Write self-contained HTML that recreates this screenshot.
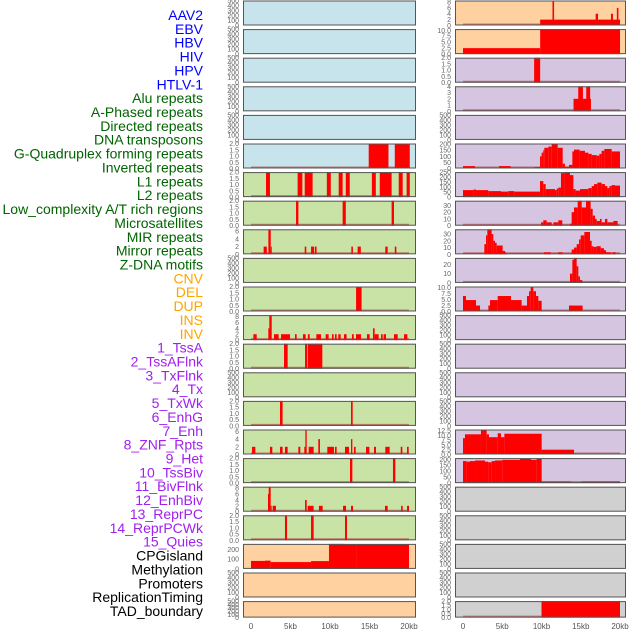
<!DOCTYPE html>
<html><head><meta charset="utf-8"><style>
body{margin:0;background:#fff;width:630px;height:630px;overflow:hidden}
svg{display:block}
</style></head><body>
<svg id="chart" width="630" height="630" viewBox="0 0 630 630"></svg>
<script>
const trackLabels=["AAV2","EBV","HBV","HIV","HPV","HTLV-1","Alu repeats","A-Phased repeats","Directed repeats","DNA transposons","G-Quadruplex forming repeats","Inverted repeats","L1 repeats","L2 repeats","Low_complexity A/T rich regions","Microsatellites","MIR repeats","Mirror repeats","Z-DNA motifs","CNV","DEL","DUP","INS","INV","1_TssA","2_TssAFlnk","3_TxFlnk","4_Tx","5_TxWk","6_EnhG","7_Enh","8_ZNF_Rpts","9_Het","10_TssBiv","11_BivFlnk","12_EnhBiv","13_ReprPC","14_ReprPCWk","15_Quies","CPGisland","Methylation","Promoters","ReplicationTiming","TAD_boundary"];
const labelColors=["#0000ff",6,"#006400",13,"#ffa500",5,"#a020f0",15,"#000000",5];
const xTicks=[0,5,10,15,20];
const xTickLabels=["0","5kb","10kb","15kb","20kb"];
const leftBg=["blue","blue","blue","blue","blue","blue","green","green","green","green","green","green","green","green","green","green","green","green","green","orange","orange","orange"];
const rightBg=["orange","orange","lav","lav","lav","lav","lav","lav","lav","lav","lav","lav","lav","lav","lav","lav","lav","gray","gray","gray","gray","gray"];
const leftMax=[500,500,500,500,500,2,2,2,6.5,500,2,8.5,2,500,2,6.5,2,8.5,2,257,500,500];
const rightMax=[8.5,10.5,2,4,500,205,250,37,37,27,10.5,500,500,500,500,13,210,500,500,500,500,2];
const leftSegs=[[],[],[],[],[],
[[14.9,17.4,2],[18.2,20.1,2]],
[[1.9,2.4,2],[5.9,6.5,2],[6.8,7.8,2],[9.6,10.1,2],[11.1,11.6,2],[12.0,12.5,2],[15.3,15.8,2],[16.3,17.8,2],[18.7,19.2,2],[19.7,20.1,2]],
[[5.7,6.0,2],[11.6,12.0,2],[17.8,18.1,2]],
[[1.6,2.0,2],[2.2,2.5,6.5],[2.5,2.6,2],[6.8,7.0,2],[7.6,8.0,2],[8.1,8.3,2],[12.7,12.9,2],[13.5,13.9,2],[17.0,17.3,2],[18.2,18.4,2]],
[],
[[13.3,14.0,2]],
[[0.3,0.72,2],[2.19,2.4,4],[2.32,2.62,8.5],[2.91,3.5,2],[3.8,4.94,2],[5.57,5.78,2],[6.58,6.92,2],[7.2,7.43,2],[8.27,8.86,2],[9.45,9.83,2],[10.25,10.46,2],[10.63,10.84,2],[11.05,11.35,2],[11.77,12.1,2],[12.78,13.0,2],[13.29,13.92,2],[14.68,15.02,2],[15.44,15.65,4],[15.65,16.16,2],[16.46,16.67,2],[16.79,17.09,2],[18.1,18.57,2],[19.37,19.79,2]],
[[4.18,4.64,2],[6.84,7.09,2],[7.17,9.03,2]],
[],
[[3.67,4.0,2],[12.66,12.87,2]],
[[0.13,0.55,2],[2.4,2.7,2],[3.67,4.0,2],[4.3,4.64,2],[5.99,6.24,2],[6.75,6.96,2],[6.88,7.05,6.5],[7.3,7.93,2],[8.52,8.73,4],[9.66,10.5,2],[10.63,10.84,2],[11.9,12.4,2],[12.66,12.83,4],[13.04,13.25,2],[14.56,14.98,2],[15.57,15.82,2],[17.0,17.55,2],[18.95,19.16,2],[19.75,19.96,2]],
[[12.53,12.83,2],[17.97,18.27,2]],
[[2.15,2.24,6],[2.24,2.49,8.5],[2.49,2.6,2],[2.74,3.16,2],[6.84,7.05,4],[7.17,7.93,2],[8.6,9.07,2],[11.65,12.03,2],[12.66,12.91,2],[16.96,17.3,2],[19.0,19.2,2],[19.75,20.0,2]],
[[4.3,4.56,2],[7.6,7.93,2],[11.9,12.15,2]],
[[0,1.77,82],[1.77,2.49,85],[2.49,7.6,70],[7.6,9.87,80],[9.87,11.9,257],[11.9,13.3,250],[13.3,20.0,255]],
[],[]];
const rightSegs=[
[[9.83,20.0,2],[11.4,11.6,8.5],[16.9,17.2,4],[18.85,19.1,4],[19.6,19.8,6]],
[[0,9.83,2.5],[9.83,20.0,10.5]],
[[9.06,9.83,2]],
[[14.08,16.3,2],[14.68,15.28,4],[15.7,16.2,4]],
[],
[[0,1.53,20],[4.59,6.07,20],[9.09,9.81,12],[9.81,10.02,100],[10.02,10.23,130],[10.23,10.36,150],[10.36,10.87,170],[10.87,11.3,180],[11.3,12.06,200],[12.06,12.7,170],[12.7,12.99,40],[12.99,13.5,15],[13.5,13.93,30],[13.93,14.14,140],[14.14,14.86,155],[14.86,15.54,145],[15.54,15.97,130],[15.97,16.39,120],[16.39,17.03,110],[17.03,17.37,105],[17.37,17.66,120],[17.66,18.0,145],[18.0,18.94,160],[18.94,20.0,140]],
[[0,1.32,70],[1.32,1.66,75],[1.66,3.23,70],[3.23,4.84,60],[4.84,5.77,55],[5.77,6.54,60],[6.54,9.81,55],[9.81,10.23,160],[10.23,10.53,130],[10.53,11.72,80],[11.72,11.93,70],[11.93,12.14,85],[12.14,12.48,95],[12.48,12.91,240],[12.91,13.63,250],[13.63,14.06,220],[14.06,14.35,80],[14.35,14.9,65],[14.9,15.97,80],[15.97,16.39,90],[16.39,16.69,110],[16.69,17.11,130],[17.11,17.66,145],[17.66,18.09,130],[18.09,18.39,110],[18.39,18.64,90],[18.64,18.94,110],[18.94,19.36,120],[19.36,20.0,115]],
[[9.94,10.23,5],[10.23,10.66,8],[10.66,11.3,5],[11.51,12.14,5],[12.14,12.65,8],[13.63,13.84,3],[13.84,14.14,20],[14.14,14.61,27],[14.61,15.12,37],[15.12,15.67,27],[15.67,16.26,37],[16.26,16.52,25],[16.52,16.82,15],[16.82,17.03,10],[17.03,17.45,7],[17.45,17.66,10],[17.66,18.09,5],[18.09,18.39,10],[18.39,19.15,5],[19.15,19.7,7]],
[[2.72,2.93,15],[2.93,3.1,28],[3.1,3.65,37],[3.65,3.86,30],[3.86,4.08,20],[4.08,4.29,17],[4.29,5.05,13],[5.05,5.35,5],[5.35,5.48,3],[10.32,11.17,3],[12.14,12.7,3],[13.84,14.14,7],[14.14,14.48,10],[14.48,14.78,15],[14.78,14.99,22],[14.99,15.46,28],[15.46,16.18,33],[16.18,16.39,20],[16.39,16.6,12],[16.6,17.03,11],[17.03,17.54,12],[17.54,17.96,9],[17.96,18.22,6],[18.22,18.85,3],[19.02,19.45,3]],
[[13.63,13.93,10],[13.93,14.14,25],[14.14,14.48,27],[14.48,14.69,18],[14.69,14.9,7],[14.9,15.2,3]],
[[0,0.38,6.5],[0.38,1.66,4.8],[1.66,2.17,2.5],[3.23,3.44,2.5],[3.44,4.42,4.8],[4.42,6.11,6.5],[6.11,7.47,4.8],[7.47,8.15,2.5],[8.15,8.41,6.5],[8.41,8.62,8.5],[8.62,8.96,10.3],[8.96,9.3,8.5],[9.3,9.6,6.5],[9.6,10.02,4.5],[13.5,15.24,2.5]],
[],[],[],[],
[[0,0.25,8.5],[0.25,2.29,10.5],[2.29,3.01,12.5],[3.01,3.31,10.5],[3.31,4.42,9],[4.42,4.84,11],[4.84,5.27,9],[5.27,10.02,10.8],[10.02,14.14,2.5]],
[[0,0.47,185],[0.47,0.89,180],[0.89,1.53,185],[1.53,2.8,190],[2.8,3.23,180],[3.23,3.65,175],[3.65,4.08,185],[4.08,5.01,190],[5.01,7.26,195],[7.26,8.66,205],[8.66,9.38,195],[9.38,10.02,205],[10.02,13.76,13],[13.76,15.12,5],[15.12,20.0,13]],
[],[],[],[],
[[10.0,20.0,2]]];

const NS="http://www.w3.org/2000/svg";
const svg=document.getElementById('chart');
const BG={blue:"#c7e3eb",green:"#c9e2a6",orange:"#ffd0a0",lav:"#d5c5e1",gray:"#d0d0d0"};
const cols=[{x0:243,x1:416,k0:251,k20:409},{x0:455,x1:626,k0:463,k20:620}];
function mk(tag,attrs){const e=document.createElementNS(NS,tag);for(const k in attrs)e.setAttribute(k,attrs[k]);svg.appendChild(e);return e;}
function ticksFor(max){
  if(max>=400)return [0,100,200,300,400,500];
  if(max>=200&&max<=215)return [0,50,100,150,200];
  if(max===250)return [0,50,100,150,200,250];
  if(max===257)return [0,100,200];
  if(max===205)return [0,50,100,150];
  if(max>=36)return [0,10,20,30];
  if(max>=25)return [0,10,20];
  if(max>=12)return [0,2.5,5,7.5,10,12.5];
  if(max>=10)return [0,2.5,5,7.5,10];
  if(max>=8)return [0,2,4,6,8];
  if(max>=6)return [0,2,4,6];
  if(max>=4)return [0,1,2,3,4];
  return [0,0.5,1,1.5,2];
}
function fmt(t,ts){const frac=ts.some(v=>v%1!==0);return frac?t.toFixed(1):String(t);}

let idx=0;
for(let g=0;g<labelColors.length;g+=2){
  for(let j=0;j<labelColors[g+1];j++){
    const t=mk('text',{x:203,y:15+idx*13.86+5,'text-anchor':'end','font-size':'14','font-family':'Liberation Sans, DejaVu Sans, sans-serif',fill:labelColors[g]});
    t.textContent=trackLabels[idx];
    
    
    idx++;
  }
}

function drawPanel(c,i,bg,max,segs){
  const C=cols[c];
  const top=i*28.6+0.5;
  const h=i<21?25:16.5;
  const bottom=top+h;
  const sx=(C.k20-C.k0)/20;
  const kx=k=>C.k0+k*sx;
  const ky=v=>bottom-Math.min(v,max)/max*h;
  const r=mk('rect',{x:C.x0,y:top,width:C.x1-C.x0,height:h,fill:BG[bg]});
  
  
  if(segs.length){
    const bl=mk('line',{x1:kx(0),x2:kx(20),y1:bottom-1,y2:bottom-1,stroke:'rgba(170,40,40,0.55)','stroke-width':2});
    
    
  }
  segs.forEach(s=>{
    const b=mk('rect',{x:kx(s[0]),y:ky(s[2]),width:Math.max(kx(s[1])-kx(s[0]),1),height:bottom-ky(s[2]),fill:'#ff0000'});
    
    
  });
  mk('rect',{x:C.x0+0.5,y:top+0.5,width:C.x1-C.x0-1,height:h-1,fill:'none',stroke:'#555','stroke-width':1});
  const ts=ticksFor(max);
  ts.forEach(t=>{
    const tl=mk('text',{x:C.x0-4,y:ky(t)+2.5,'text-anchor':'end','font-size':'7','font-family':'Liberation Sans, sans-serif',fill:'#666'});
    tl.textContent=fmt(t,ts);
    
    
  });
}
for(let i=0;i<22;i++){
  drawPanel(0,i,leftBg[i],leftMax[i],leftSegs[i]);
  drawPanel(1,i,rightBg[i],rightMax[i],rightSegs[i]);
}
cols.forEach(C=>{
  const sx=(C.k20-C.k0)/20;
  xTicks.forEach((k,j)=>{
    const t=mk('text',{x:C.k0+k*sx,y:629,'text-anchor':'middle','font-size':'8','font-family':'Liberation Sans, sans-serif',fill:'#555'});
    t.textContent=xTickLabels[j];
    
    
  });
});
</script>
</body></html>
